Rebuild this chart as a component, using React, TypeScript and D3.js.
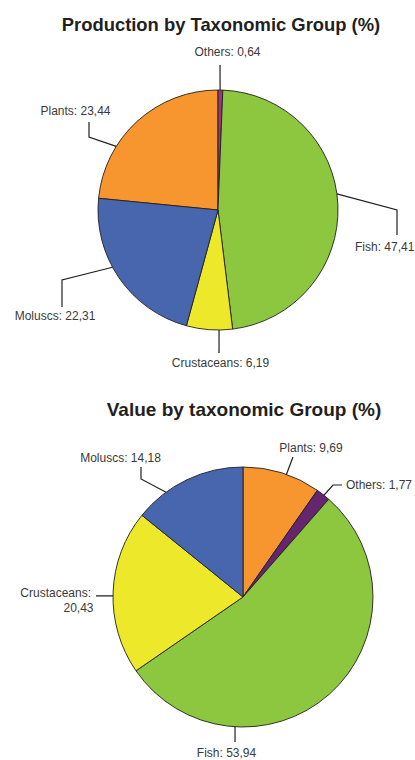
import React from 'react';
import * as d3 from 'd3';

// Aquaculture shares by taxonomic group (%)
const groups = ['Plants', 'Others', 'Fish', 'Crustaceans', 'Moluscs'];
const productionShares = [23.44, 0.64, 47.41, 6.19, 22.31];
const valueShares = [9.69, 1.77, 53.94, 20.43, 14.18];
const productionColors = ['#F7962F', '#983976', '#8DC63F', '#EDE82A', '#4866AE'];
const valueColors = ['#F7962F', '#66256F', '#8DC63F', '#EDE82A', '#4866AE'];

const W = 415;
const H = 760;
const FONT = 'Helvetica, "Liberation Sans", Arial, sans-serif';

type Line = { dx: number; dy: number; anchor: 'start' | 'middle' | 'end' };
type LabelSpec = {
  angle: number; // degrees clockwise from 12 o'clock, where the leader meets the rim
  bends: [number, number][]; // leader vertices relative to the pie centre
  lines: Line[]; // one entry per text line (label split after the colon)
};

const productionLayout: Record<string, LabelSpec> = {
  Plants: { angle: 302, bends: [[-129, -73], [-129, -88]], lines: [{ dx: -142.5, dy: -95, anchor: 'middle' }] },
  Others: { angle: 1, bends: [[2, -145]], lines: [{ dx: 9.5, dy: -154, anchor: 'middle' }] },
  Fish: { angle: 82.3, bends: [[179, 0], [179, 25]], lines: [{ dx: 137, dy: 41, anchor: 'start' }] },
  Crustaceans: { angle: 179.5, bends: [[1, 143]], lines: [{ dx: 2.5, dy: 157, anchor: 'middle' }] },
  Moluscs: { angle: 241.5, bends: [[-156, 70], [-156, 97]], lines: [{ dx: -163, dy: 110, anchor: 'middle' }] },
};

const valueLayout: Record<string, LabelSpec> = {
  Plants: { angle: 19.5, bends: [[50, -140]], lines: [{ dx: 68, dy: -145, anchor: 'middle' }] },
  Others: { angle: 38.5, bends: [[90, -112], [99, -112]], lines: [{ dx: 103, dy: -108, anchor: 'start' }] },
  Fish: { angle: 183.5, bends: [[-8, 145]], lines: [{ dx: -16.5, dy: 160, anchor: 'middle' }] },
  Crustaceans: {
    angle: 270.5,
    bends: [[-147, -1.2]],
    lines: [
      { dx: -152, dy: 0, anchor: 'end' },
      { dx: -149.5, dy: 14.5, anchor: 'end' },
    ],
  },
  Moluscs: { angle: 323.7, bends: [[-102, -118], [-102, -130]], lines: [{ dx: -122.5, dy: -135, anchor: 'middle' }] },
};

const fmt = (v: number) => v.toFixed(2).replace('.', ',');

type PieProps = {
  title: string;
  titleX: number;
  titleY: number;
  titleSize: number;
  cx: number;
  cy: number;
  r: number;
  values: number[];
  colors: string[];
  startGroup: number; // index of the slice that begins at 12 o'clock
  layout: Record<string, LabelSpec>;
};

function Pie({ title, titleX, titleY, titleSize, cx, cy, r, values, colors, startGroup, layout }: PieProps) {
  const total = d3.sum(values);
  const offset = -(d3.sum(values.slice(0, startGroup)) / total) * Math.PI * 2;
  const pie = d3
    .pie<number>()
    .sort(null)
    .value((d) => d)
    .startAngle(offset)
    .endAngle(offset + Math.PI * 2);
  const arcs = pie(values);
  const arc = d3.arc<d3.PieArcDatum<number>>().innerRadius(0).outerRadius(r);

  return (
    <g>
      <text
        x={titleX}
        y={titleY}
        textAnchor="middle"
        fontFamily={FONT}
        fontWeight="bold"
        fontSize={titleSize}
        fill="#231F20"
      >
        {title}
      </text>
      <g transform={`translate(${cx},${cy})`}>
        {arcs.map((a, i) => (
          <path key={groups[i]} d={arc(a) ?? ''} fill={colors[i]} stroke="#231F20" strokeWidth={0.9} strokeLinejoin="round" />
        ))}
        {groups.map((g, i) => {
          const spec = layout[g];
          const rad = (spec.angle * Math.PI) / 180;
          const start: [number, number] = [r * Math.sin(rad), -r * Math.cos(rad)];
          const pts = [start, ...spec.bends];
          const label = `${g}: ${fmt(values[i])}`;
          const parts = spec.lines.length > 1 ? [`${g}:`, fmt(values[i])] : [label];
          return (
            <g key={g}>
              <path d={d3.line()(pts) ?? ''} fill="none" stroke="#231F20" strokeWidth={1.2} />
              {parts.map((t, j) => (
                <text
                  key={j}
                  x={spec.lines[j].dx}
                  y={spec.lines[j].dy}
                  textAnchor={spec.lines[j].anchor}
                  fontFamily={FONT}
                  fontSize={12}
                  fill="#3A3A3A"
                >
                  {t}
                </text>
              ))}
            </g>
          );
        })}
      </g>
    </g>
  );
}

export default function App() {
  return (
    <svg
      width={W}
      height={H}
      viewBox={`0 0 ${W} ${H}`}
      style={{ position: 'absolute', left: 0, top: 0, background: '#fff' }}
    >
      <rect width={W} height={H} fill="#fff" />
      <Pie
        title="Production by Taxonomic Group (%)"
        titleX={221}
        titleY={31}
        titleSize={18.4}
        cx={218}
        cy={210}
        r={120}
        values={productionShares}
        colors={productionColors}
        startGroup={1}
        layout={productionLayout}
      />
      <Pie
        title="Value by taxonomic Group (%)"
        titleX={244}
        titleY={416}
        titleSize={19}
        cx={243}
        cy={597}
        r={130}
        values={valueShares}
        colors={valueColors}
        startGroup={0}
        layout={valueLayout}
      />
    </svg>
  );
}
